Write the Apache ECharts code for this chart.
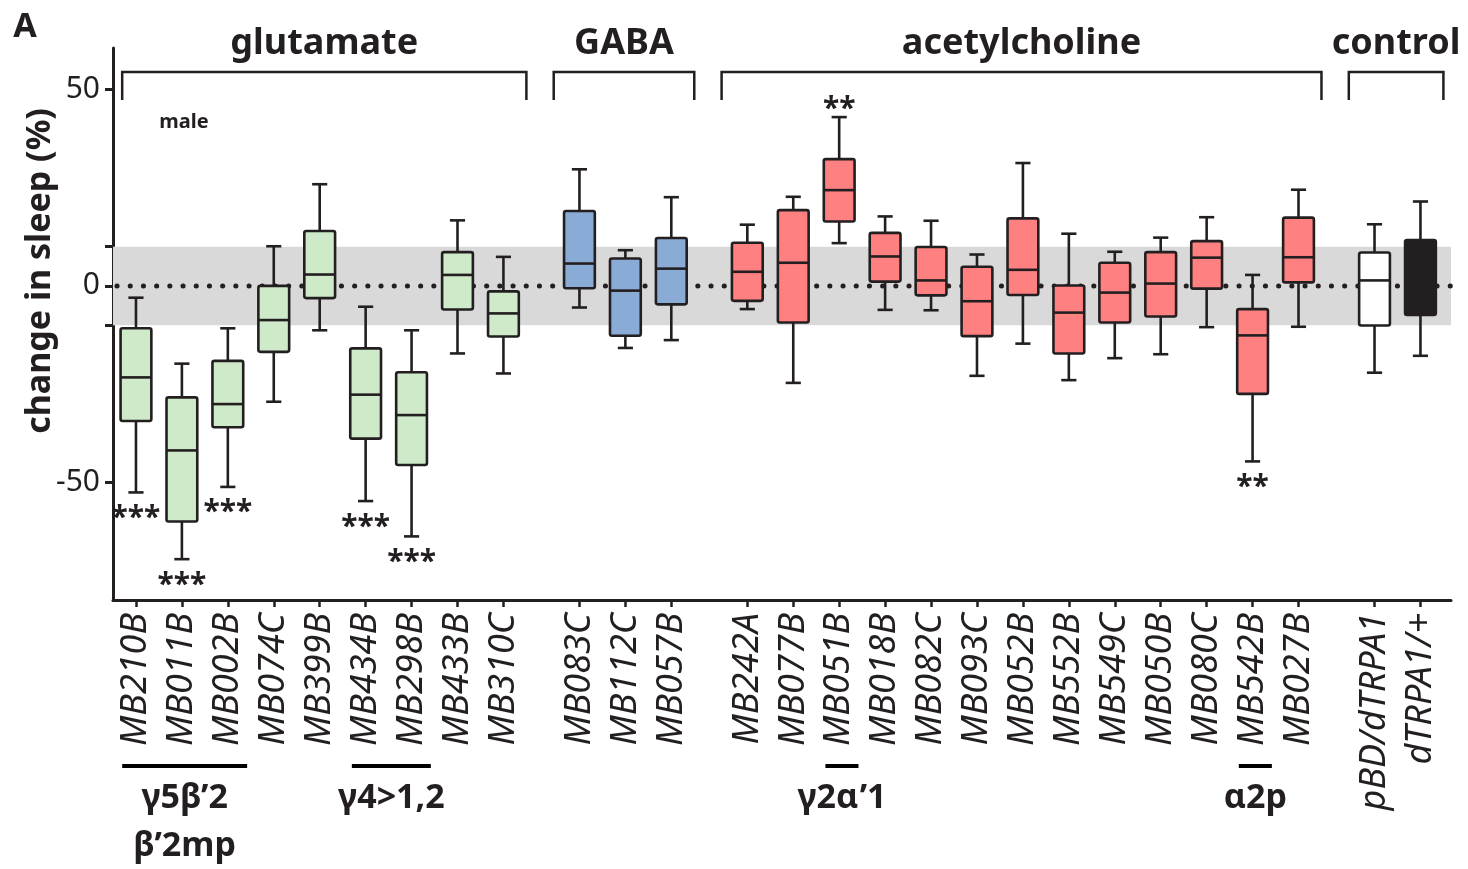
<!DOCTYPE html>
<html>
<head>
<meta charset="utf-8">
<script src="https://cdn.jsdelivr.net/npm/echarts@6/dist/echarts.min.js"></script>
<style>
  html, body { margin: 0; padding: 0; background: #fff; }
  #chart { width: 1468px; height: 869px; }
</style>
</head>
<body>
<div id="chart"></div>
<script>
// split-GAL4 lines, in plotting order
const categories = [
  'MB210B', 'MB011B', 'MB002B', 'MB074C', 'MB399B', 'MB434B', 'MB298B', 'MB433B', 'MB310C',
  'MB083C', 'MB112C', 'MB057B',
  'MB242A', 'MB077B', 'MB051B', 'MB018B', 'MB082C', 'MB093C', 'MB052B', 'MB552B', 'MB549C',
  'MB050B', 'MB080C', 'MB542B', 'MB027B',
  'pBD/dTRPA1', 'dTRPA1/+'
]
const groupNames = ['glutamate', 'GABA', 'acetylcholine', 'control']
const groupSizes = [9, 3, 13, 2]

// box statistics (change in sleep, %)
const whiskerLow = [-52.6, -69.6, -51.2, -29.5, -11.3, -54.8, -63.8, -17.2, -22.3,
  -5.5, -15.8, -13.8,
  -5.9, -24.7, 10.9, -6.1, -6.2, -22.9, -14.7, -24.0, -18.4, -17.4, -10.5, -44.7, -10.4,
  -22.1, -17.8]
const q1 = [-34.4, -60.0, -36.0, -16.8, -3.1, -38.9, -45.6, -6.0, -12.9,
  -0.6, -12.7, -4.7,
  -3.8, -9.3, 16.4, 1.1, -2.4, -12.8, -2.3, -17.2, -9.3, -7.8, -0.7, -27.5, 0.9,
  -10.1, -7.4]
const median = [-23.3, -41.9, -30.1, -8.7, 2.9, -27.7, -32.9, 2.8, -7.0,
  5.7, -1.2, 4.4,
  3.6, 5.9, 24.4, 7.5, 1.4, -3.9, 4.1, -6.8, -1.7, 0.6, 7.2, -12.6, 7.3,
  1.4, 2.0]
const q3 = [-10.8, -28.4, -19.1, 0.0, 14.0, -15.9, -22.0, 8.6, -1.4,
  19.1, 7.0, 12.2,
  11.0, 19.3, 32.3, 13.5, 9.9, 4.9, 17.2, 0.1, 5.9, 8.6, 11.4, -5.9, 17.4,
  8.5, 11.7]
const whiskerHigh = [-3.0, -19.8, -10.8, 10.1, 25.9, -5.3, -11.3, 16.7, 7.4,
  29.7, 9.1, 22.6,
  15.6, 22.7, 43.0, 17.7, 16.6, 8.0, 31.3, 13.3, 8.7, 12.3, 17.5, 2.8, 24.5,
  15.7, 21.5]
const significance = ['***', '***', '***', '', '', '***', '***', '', '',
  '', '', '',
  '', '', '**', '', '', '', '', '', '', '', '', '**', '',
  '', '']

// neuron-type annotations under the axis: label + first/last category index
const subgroupLabels = ['γ5β’2\nβ’2mp', 'γ4>1,2', 'γ2α’1', 'α2p']
const subgroupFirst = [0, 5, 14, 23]
const subgroupLast = [2, 6, 14, 23]

const yLabelTicks = [-50, 0, 50]
const yAllTicks = [-50, -10, 0, 10, 50]
const bandLow = -10
const bandHigh = 10

const INK = '#231f20'
const FONT = '"Noto Sans", sans-serif'
const groupFills = ['#cfeac8', '#8aabd6', '#ff8080']
const controlFills = ['#ffffff', INK]
const GAP = 0.655 // extra space between transmitter groups (in box widths)

// x positions of each box, with gaps between groups
const positions = []
const fills = []
const groupStart = []
let p = 0
groupSizes.forEach((n, g) => {
  groupStart.push(positions.length)
  for (let i = 0; i < n; i++) {
    positions.push(p)
    fills.push(g < 3 ? groupFills[g] : controlFills[i])
    p += 1
  }
  p += GAP
})
const X_MIN = -0.5
const X_MAX = positions[positions.length - 1] + 0.665

const chart = echarts.init(document.getElementById('chart'))

function labelFor(v) {
  let best = 0
  positions.forEach((pos, i) => {
    if (Math.abs(pos - v) < Math.abs(positions[best] - v)) best = i
  })
  return categories[best]
}

const option = {
  animation: false,
  backgroundColor: '#fff',
  grid: { left: 113, right: 17, top: 48, bottom: 269 },
  xAxis: {
    type: 'value',
    min: X_MIN,
    max: X_MAX,
    splitLine: { show: false },
    axisLine: { onZero: false, lineStyle: { color: INK, width: 3 } },
    axisTick: { customValues: positions, length: 7, lineStyle: { color: INK, width: 2.5 } },
    axisLabel: {
      customValues: positions,
      rotate: 90,
      margin: 13,
      formatter: labelFor,
      fontFamily: FONT,
      fontStyle: 'italic',
      fontSize: 36,
      color: INK
    }
  },
  yAxis: {
    type: 'value',
    min: -80,
    max: 60.6,
    splitLine: { show: false },
    axisLine: { show: true, onZero: false, lineStyle: { color: INK, width: 3 } },
    axisTick: { show: true, customValues: yAllTicks, length: 8, lineStyle: { color: INK, width: 3 } },
    axisLabel: {
      customValues: yLabelTicks,
      margin: 13,
      fontFamily: FONT,
      fontSize: 30,
      color: INK
    }
  },
  series: [
    {
      // grey +/-10% band and dotted zero line
      type: 'custom',
      z: 1,
      silent: true,
      data: [[0]],
      renderItem(params, api) {
        const tl = api.coord([X_MIN, bandHigh])
        const br = api.coord([X_MAX, bandLow])
        const z0 = api.coord([X_MIN, 0])
        const z1 = api.coord([X_MAX, 0])
        return {
          type: 'group',
          children: [
            { type: 'rect', shape: { x: tl[0], y: tl[1], width: br[0] - tl[0], height: br[1] - tl[1] },
              style: { fill: '#d9d9d9' } },
            { type: 'line', shape: { x1: z0[0] + 4, y1: z0[1], x2: z1[0], y2: z1[1] },
              style: { stroke: INK, lineWidth: 5, lineDash: [0.1, 13.1], lineCap: 'round' } }
          ]
        }
      }
    },
    {
      type: 'custom',
      z: 3,
      silent: true,
      encode: { x: 0, y: [1, 2, 3, 4, 5] },
      data: positions.map((x, i) => [x, whiskerLow[i], q1[i], median[i], q3[i], whiskerHigh[i], i]),
      renderItem(params, api) {
        const x = api.value(0)
        const i = api.value(6)
        const lo = api.coord([x, api.value(1)])
        const b1 = api.coord([x, api.value(2)])
        const md = api.coord([x, api.value(3)])
        const b3 = api.coord([x, api.value(4)])
        const hi = api.coord([x, api.value(5)])
        const unit = api.size([1, 0])[0]
        const hb = unit * 0.335
        const hc = unit * 0.165
        const cx = lo[0]
        const line = { stroke: INK, lineWidth: 2.6 }
        const children = [
          { type: 'line', shape: { x1: cx, y1: b3[1], x2: cx, y2: hi[1] }, style: line },
          { type: 'line', shape: { x1: cx, y1: b1[1], x2: cx, y2: lo[1] }, style: line },
          { type: 'line', shape: { x1: cx - hc, y1: hi[1], x2: cx + hc, y2: hi[1] }, style: line },
          { type: 'line', shape: { x1: cx - hc, y1: lo[1], x2: cx + hc, y2: lo[1] }, style: line },
          { type: 'rect', shape: { x: cx - hb, y: b3[1], width: hb * 2, height: b1[1] - b3[1], r: 2 },
            style: { fill: fills[i], stroke: INK, lineWidth: 2.6 } },
          { type: 'line', shape: { x1: cx - hb, y1: md[1], x2: cx + hb, y2: md[1] }, style: line }
        ]
        const s = significance[i]
        if (s) {
          const above = api.value(3) > 0
          children.push({
            type: 'text',
            style: {
              text: s,
              x: cx,
              y: above ? hi[1] - 8 : lo[1] + 26,
              align: 'center',
              verticalAlign: 'middle',
              font: 'bold 30px ' + FONT,
              fill: INK
            }
          })
        }
        return { type: 'group', children }
      }
    }
  ]
}
chart.setOption(option)

// annotations placed from the axis scale
const xPx = v => chart.convertToPixel({ xAxisIndex: 0 }, v)
const graphics = [
  { type: 'text', x: 25, y: 27, style: { text: 'A', font: 'bold 34px ' + FONT, fill: INK, align: 'center', verticalAlign: 'middle' } },
  { type: 'text', x: 40, y: 271, rotation: Math.PI / 2,
    style: { text: 'change in sleep (%)', font: 'bold 34px ' + FONT, fill: INK, align: 'center', verticalAlign: 'middle' } },
  { type: 'text', x: 184, y: 122, style: { text: 'male', font: 'bold 20px ' + FONT, fill: INK, align: 'center', verticalAlign: 'middle' } }
]
groupNames.forEach((name, g) => {
  const first = positions[groupStart[g]]
  const last = positions[groupStart[g] + groupSizes[g] - 1]
  const x1 = xPx(Math.max(first - 0.56, X_MIN + 0.2))
  const x2 = xPx(last + 0.5)
  graphics.push({
    type: 'polyline',
    shape: { points: [[x1, 100], [x1, 72], [x2, 72], [x2, 100]] },
    style: { stroke: INK, lineWidth: 2.5, fill: null }
  })
  graphics.push({
    type: 'text', x: (x1 + x2) / 2, y: 44,
    style: { text: name, font: 'bold 36px ' + FONT, fill: INK, align: 'center', verticalAlign: 'middle' }
  })
})
subgroupLabels.forEach((label, k) => {
  const x1 = xPx(positions[subgroupFirst[k]] - 0.3)
  const x2 = xPx(positions[subgroupLast[k]] + 0.42)
  graphics.push({
    type: 'line',
    shape: { x1, y1: 766, x2, y2: 766 },
    style: { stroke: '#000', lineWidth: 4 }
  })
  graphics.push({
    type: 'text', x: (x1 + x2) / 2, y: 774,
    style: { text: label, font: 'bold 34px ' + FONT, lineHeight: 48, fill: INK, align: 'center', verticalAlign: 'top' }
  })
})
chart.setOption({ graphic: graphics })
</script>
</body>
</html>
